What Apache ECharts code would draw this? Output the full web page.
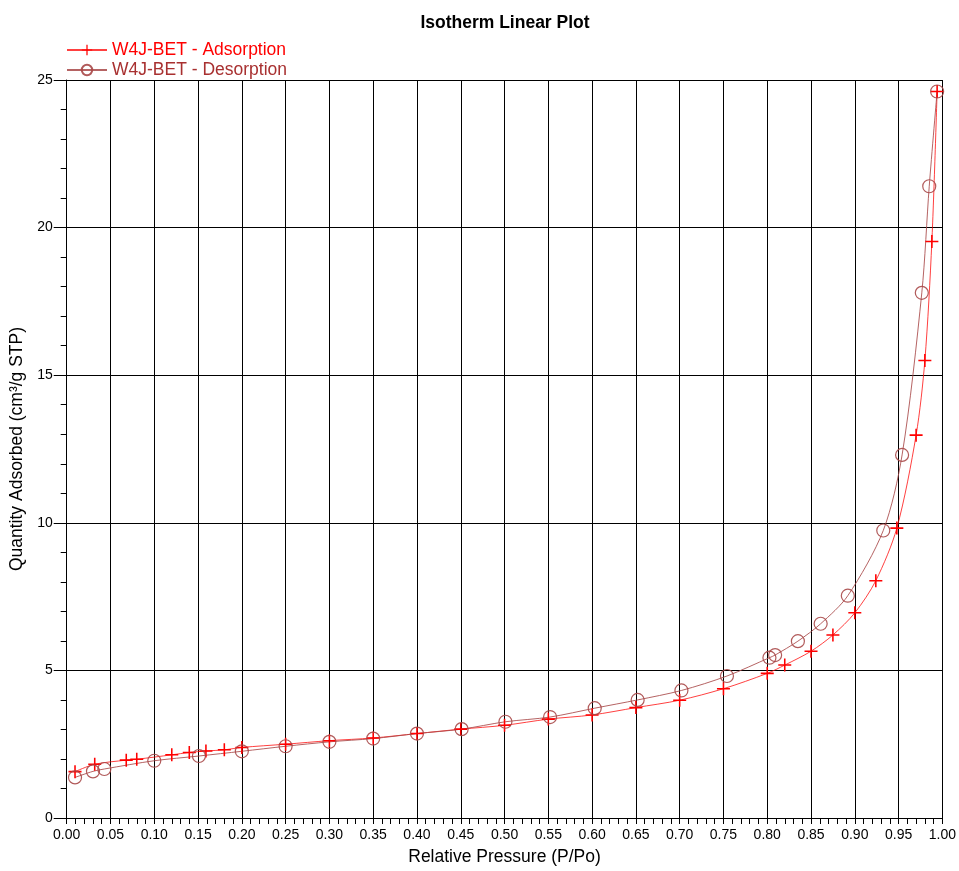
<!DOCTYPE html>
<html>
<head>
<meta charset="utf-8">
<script src="https://cdn.jsdelivr.net/npm/echarts@6/dist/echarts.min.js"></script>
<style>
html,body{margin:0;padding:0;background:#fff;}
#chart{width:959px;height:871px;}
</style>
</head>
<body>
<div id="chart"></div>
<script>
var titleText = "Isotherm Linear Plot";
var xAxisName = "Relative Pressure (P/Po)";
var yAxisName = "Quantity Adsorbed (cm\u00B3/g STP)";
var adsName = "W4J-BET - Adsorption";
var desName = "W4J-BET - Desorption";

var adsX = [0.0095,0.032,0.068,0.080,0.120,0.140,0.159,0.180,0.200,0.250,0.300,0.350,0.400,0.450,0.500,0.550,0.600,0.650,0.700,0.750,0.800,0.820,0.850,0.875,0.900,0.924,0.948,0.970,0.980,0.988,0.994];
var adsY = [1.57,1.82,1.96,1.99,2.14,2.22,2.27,2.31,2.39,2.50,2.62,2.71,2.86,3.01,3.14,3.35,3.49,3.74,3.99,4.38,4.90,5.18,5.65,6.20,6.95,8.04,9.82,12.97,15.5,19.53,24.61];

var desX = [0.0095,0.030,0.043,0.100,0.151,0.200,0.250,0.300,0.350,0.400,0.451,0.501,0.552,0.603,0.652,0.702,0.754,0.8025,0.809,0.835,0.861,0.892,0.9325,0.954,0.9765,0.985,0.994];
var desY = [1.375,1.58,1.66,1.94,2.10,2.26,2.43,2.58,2.69,2.86,3.01,3.26,3.42,3.72,4.00,4.32,4.81,5.43,5.52,5.99,6.58,7.53,9.74,12.3,17.79,21.4,24.61];

function pairs(xs, ys){ var o=[]; for(var i=0;i<xs.length;i++){o.push([xs[i],ys[i]]);} return o; }

var adsColor = '#ff0000';
var desColor = '#a84848';
var plusPath = 'path://M4.4,0H5.6V4.4H10V5.6H5.6V10H4.4V5.6H0V4.4H4.4Z';

var chart = echarts.init(document.getElementById('chart'), null, {renderer:'canvas'});
var font = 'Liberation Sans, Arial, sans-serif';
chart.setOption({
  animation:false,
  backgroundColor:'#fff',
  textStyle:{fontFamily:font},
  title:{text:titleText,left:500,textAlign:'center',top:9,textStyle:{fontFamily:font,fontSize:17.5,fontWeight:'bold',color:'#000'}},
  legend:{
    orient:'vertical',left:61,top:36,itemWidth:40,itemHeight:13,itemGap:2,
    textStyle:{fontFamily:font,fontSize:17.5},
    data:[
      {name:adsName,textStyle:{color:adsColor}},
      {name:desName,textStyle:{color:'#a83030'}}
    ]
  },
  grid:{left:66.7,right:14.7,top:80,bottom:50.3,containLabel:false},
  xAxis:{
    type:'value',min:0,max:1,interval:0.05,
    name:xAxisName,nameLocation:'middle',nameGap:30,
    nameTextStyle:{fontFamily:font,fontSize:17.5,color:'#000'},
    axisLine:{show:true,lineStyle:{color:'#000',width:1}},
    axisTick:{show:true,inside:false,length:6,lineStyle:{color:'#000'}},
    minorTick:{show:true,splitNumber:5,length:6,lineStyle:{color:'#000'}},
    axisLabel:{margin:10,fontFamily:font,fontSize:14,color:'#000',formatter:function(v){return v.toFixed(2);}},
    splitLine:{show:true,lineStyle:{color:'#000',width:1}}
  },
  yAxis:{
    type:'value',min:0,max:25,interval:5,
    name:yAxisName,nameLocation:'middle',nameGap:31,
    nameTextStyle:{fontFamily:font,fontSize:17.5,color:'#000'},
    axisLine:{show:true,lineStyle:{color:'#000',width:1}},
    axisTick:{show:true,inside:false,length:13,lineStyle:{color:'#000'}},
    minorTick:{show:true,splitNumber:5,length:6,lineStyle:{color:'#000'}},
    axisLabel:{margin:14,fontFamily:font,fontSize:14,color:'#000'},
    splitLine:{show:true,lineStyle:{color:'#000',width:1}}
  },
  series:[
    {
      name:adsName,type:'line',data:pairs(adsX,adsY),smooth:0.3,
      symbol:plusPath,symbolSize:13,showAllSymbol:true,
      itemStyle:{color:adsColor},
      lineStyle:{color:adsColor,width:1,opacity:0.75}
    },
    {
      name:desName,type:'line',data:pairs(desX,desY),smooth:0.3,
      symbol:'circle',symbolSize:13,showAllSymbol:true,
      itemStyle:{color:'rgba(0,0,0,0)',borderColor:desColor,borderWidth:1.2,opacity:0.9},
      lineStyle:{color:desColor,width:1,opacity:0.85}
    }
  ]
});
</script>
</body>
</html>
